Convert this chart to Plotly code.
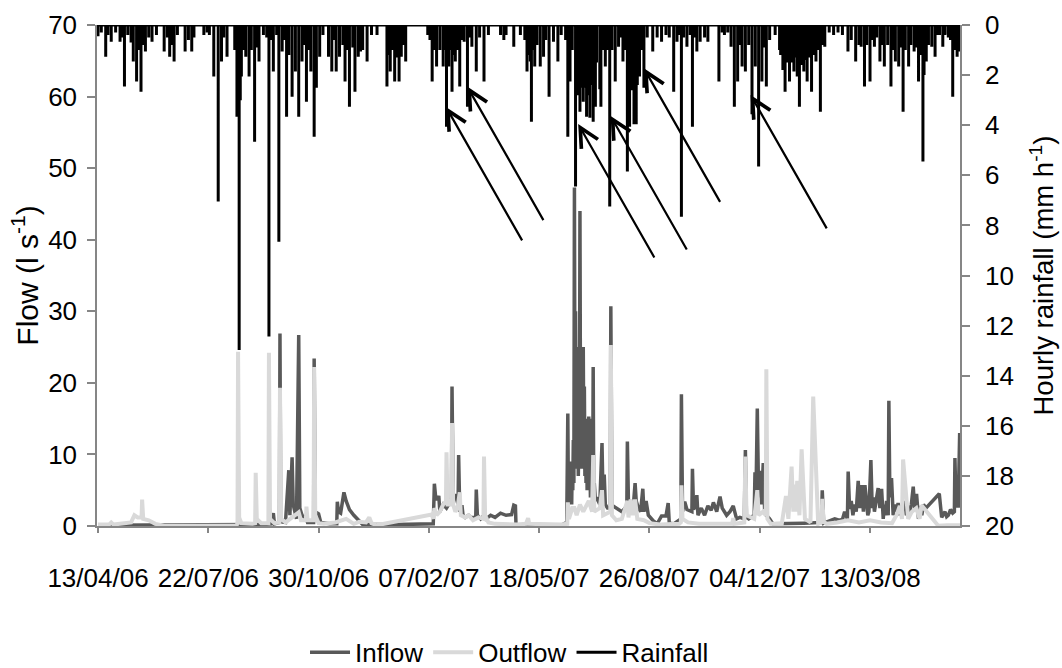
import plotly.graph_objects as go
import pandas as pd

START = pd.Timestamp("2006-04-13")   # first day of the record (day 0)

# ---------------- data (day = days since 13/04/06) ----------------
rain_day = [
    0, 3, 7, 9, 12, 16, 20, 22, 24, 27, 30, 32, 35, 37, 39, 41, 43, 46, 49, 53,
    60, 63, 65, 67, 69, 72, 79, 82, 85, 87, 96, 99, 101, 105, 109, 112, 114, 117, 124, 126,
    127, 128, 129, 130, 132, 134, 137, 139, 142, 144, 146, 150, 153, 155, 157, 159, 162, 164, 167, 169,
    171, 173, 176, 179, 182, 185, 187, 189, 191, 193, 196, 198, 201, 204, 209, 212, 214, 216, 219, 222,
    224, 226, 228, 231, 233, 236, 238, 240, 244, 248, 253, 262, 264, 265, 267, 269, 271, 273, 275, 277,
    279, 299, 301, 303, 305, 307, 310, 313, 314, 316, 318, 319, 321, 322, 324, 326, 328, 330, 332, 335,
    337, 339, 343, 346, 350, 354, 365, 368, 370, 377, 383, 387, 389, 391, 392, 393, 395, 396, 398, 401,
    404, 406, 409, 413, 417, 420, 424, 426, 428, 430, 433, 434, 435, 436, 437, 438, 439, 440, 441, 442,
    443, 444, 445, 446, 447, 448, 449, 450, 451, 452, 455, 456, 458, 460, 462, 464, 466, 469, 472, 474,
    476, 478, 480, 481, 482, 484, 486, 487, 488, 489, 491, 493, 495, 498, 503, 507, 511, 515, 518, 522,
    525, 527, 529, 531, 534, 537, 539, 541, 543, 546, 550, 553, 563, 566, 568, 571, 574, 577, 580, 582,
    584, 587, 590, 593, 596, 599, 602, 604, 606, 609, 614, 618, 619, 621, 623, 625, 627, 629, 631, 632,
    634, 636, 638, 640, 642, 643, 645, 647, 649, 651, 653, 655, 657, 659, 663, 667, 671, 675, 680, 683,
    687, 690, 692, 695, 697, 700, 702, 704, 706, 709, 711, 713, 716, 719, 721, 723, 726, 728, 730, 732,
    735, 737, 740, 742, 744, 746, 748, 749, 751, 753, 756, 759, 761, 763, 766, 768, 771, 773, 775, 777,
    779, 781]
rain_mm = [
    0.45, 0.3, 1.27, 0.4, 0.67, 0.3, 0.67, 0.5, 2.46, 0.4, 0.7, 1.46, 2.26, 1.0, 2.66, 0.8, 1.06, 0.5, 0.67, 0.4,
    1.06, 0.5, 1.27, 0.8, 1.46, 0.4, 1.06, 0.6, 1.06, 0.5, 0.4, 0.3, 0.4, 2.06, 7.05, 1.46, 0.5, 1.27, 1.0, 3.66,
    2.5, 12.97, 3.0, 2.06, 1.0, 1.27, 2.06, 1.0, 4.66, 0.9, 1.46, 0.4, 0.5, 12.44, 0.6, 1.86, 0.4, 8.65, 1.06, 0.6,
    3.66, 1.2, 2.86, 1.86, 3.66, 1.46, 0.8, 3.06, 1.0, 1.86, 4.46, 2.5, 1.27, 0.4, 1.27, 1.86, 0.6, 1.86, 1.27, 0.8,
    2.26, 1.0, 3.26, 0.9, 2.66, 1.27, 1.06, 1.0, 1.46, 0.4, 0.4, 2.46, 1.2, 1.86, 1.0, 2.26, 1.3, 2.26, 1.27, 0.8,
    1.46, 0.4, 0.6, 2.26, 1.0, 1.66, 1.0, 1.66, 1.0, 4.06, 1.66, 1.0, 2.66, 1.2, 1.46, 1.0, 2.46, 0.6, 0.67, 3.26,
    0.5, 0.87, 1.86, 0.5, 2.26, 0.4, 0.4, 0.6, 0.4, 0.87, 0.4, 0.6, 1.86, 1.2, 1.46, 3.86, 1.0, 1.66, 0.8, 1.66,
    1.27, 0.6, 2.86, 0.67, 1.46, 0.4, 0.6, 4.46, 2.26, 1.0, 6.45, 2.5, 2.8, 2.2, 3.46, 2.5, 2.0, 3.06, 2.0, 2.5,
    3.66, 2.2, 2.8, 3.7, 2.4, 2.0, 3.86, 2.5, 3.26, 1.5, 2.56, 3.26, 1.0, 1.66, 1.0, 7.25, 1.0, 2.26, 0.87, 0.5,
    1.46, 1.0, 5.85, 2.5, 4.06, 2.6, 3.96, 2.5, 3.96, 2.4, 2.06, 1.0, 2.5, 0.5, 1.06, 0.5, 0.67, 0.4, 0.5, 2.66,
    0.67, 0.4, 7.65, 0.5, 0.87, 0.4, 4.06, 0.5, 1.06, 0.67, 0.5, 0.67, 2.26, 0.3, 0.4, 0.3, 0.87, 3.26, 2.26, 0.8,
    1.66, 1.86, 0.8, 3.56, 1.66, 5.65, 2.26, 0.9, 2.46, 0.6, 0.4, 1.0, 1.2, 1.8, 2.66, 1.5, 2.26, 1.5, 1.86, 1.3,
    2.06, 3.26, 1.6, 1.86, 1.4, 2.26, 1.3, 2.66, 1.2, 1.46, 1.0, 3.46, 0.8, 0.87, 0.3, 0.4, 0.3, 0.4, 1.06, 0.6,
    1.46, 0.8, 0.87, 2.46, 0.8, 2.26, 0.6, 0.87, 0.5, 1.46, 0.8, 1.66, 0.8, 2.46, 1.0, 1.46, 1.66, 0.9, 3.46, 1.0,
    1.66, 0.8, 1.06, 0.9, 2.26, 1.2, 5.45, 2.0, 1.46, 0.8, 0.87, 1.27, 0.4, 0.4, 0.87, 0.4, 0.5, 0.6, 2.86, 1.0,
    1.27, 1.06]

inflow_day = [
    0, 60, 120, 150, 157, 159, 160, 164.5, 165, 165.7,
    170, 173, 174, 176, 177, 180, 182, 183, 185, 189,
    190, 195.5, 196, 197, 200, 202, 210, 216.5, 217, 218,
    220, 223, 225, 228, 232, 236, 240, 270, 303, 304,
    305, 306, 307.5, 309, 310, 313, 316, 318, 320.5, 321,
    322, 324, 326.5, 327, 328, 330, 331, 333, 336, 338,
    342.5, 343, 344, 347, 350, 352, 356, 360, 365, 370,
    375, 377, 378.5, 379, 390, 420, 425, 426, 426.5, 427,
    427.5, 428, 428.5, 429, 429.5, 430, 430.5, 431, 431.5, 432,
    432.5, 433, 433.5, 434, 434.5, 435, 435.5, 436, 436.5, 437,
    437.5, 438, 438.5, 439, 439.5, 440, 440.5, 441, 441.5, 442,
    442.5, 443, 443.5, 444, 444.5, 445, 445.5, 446, 446.5, 447,
    447.5, 448, 448.5, 449, 449.5, 450, 451, 452, 455, 457,
    458, 459, 460, 462, 464.5, 465, 466, 469, 472, 475,
    478, 479.5, 480, 481, 483, 485, 487, 488, 490, 492,
    494, 495, 497, 499, 503, 507, 511, 515, 517, 518,
    522, 528.5, 529, 530, 532, 534, 538.5, 539, 540, 542,
    543, 544, 547, 550, 553, 556, 558, 561, 564, 566,
    570, 573, 576, 579, 582, 586, 587, 588, 590, 595,
    595.7, 596.5, 597.8, 599, 600.2, 601.5, 603.2, 604.5, 606, 609,
    612, 620, 640, 656, 656.7, 658, 664, 668, 672, 675,
    677, 679.5, 680.2, 681.5, 683, 684.5, 686, 687.5, 689.3, 690.5,
    692.4, 694, 695.4, 697, 698, 699, 700.8, 702, 703, 704,
    705.5, 707.4, 709, 710.5, 712, 713, 714, 715, 716.5, 717.1,
    718, 719.5, 721, 722.5, 724, 725.5, 727, 728.5, 730, 731.5,
    733, 734.5, 736, 737.5, 739.2, 740.5, 742.2, 744, 745.5, 747,
    748.5, 750.7, 762.8, 765, 768, 769.5, 771, 773, 775, 776.5,
    777, 778, 780, 780.8, 781.3]
inflow_ls = [
    0.1, 0.1, 0.1, 0.2, 0.3, 1.8, 0.3, 0.5, 26.9, 0.6,
    0.5, 7.8, 1.5, 9.6, 3.0, 1.0, 26.7, 2.5, 1.5, 1.0,
    0.5, 0.5, 23.4, 2.0, 1.7, 0.5, 0.3, 0.3, 3.4, 2.0,
    1.8, 4.7, 3.5, 2.3, 1.5, 0.8, 0.2, 0.2, 0.2, 0.3,
    5.9, 4.3, 3.6, 4.2, 2.0, 3.0, 2.5, 3.0, 4.0, 19.5,
    4.0, 4.4, 3.0, 9.9, 2.0, 2.9, 1.5, 1.2, 1.5, 1.2,
    1.2, 5.1, 1.5, 1.0, 1.5, 1.0, 1.5, 1.2, 1.8, 1.5,
    1.6, 2.9, 2.8, 0.2, 0.1, 0.1, 0.5, 15.7, 4.0, 9.0,
    3.0, 9.0, 4.0, 8.0, 3.0, 9.0, 5.0, 12.0, 6.0, 47.3,
    12.0, 30.0, 10.0, 25.0, 8.0, 20.0, 7.0, 12.0, 9.0, 44.0,
    15.0, 22.0, 8.0, 18.0, 9.0, 25.0, 10.0, 19.5, 7.0, 15.0,
    6.0, 14.0, 5.0, 12.0, 6.0, 15.3, 5.0, 10.0, 4.0, 8.0,
    5.0, 15.0, 4.0, 22.2, 5.0, 6.0, 3.5, 4.0, 3.0, 11.6,
    3.0, 7.2, 3.0, 2.5, 2.5, 30.7, 2.9, 2.6, 2.4, 2.0,
    2.5, 2.5, 11.8, 3.0, 3.6, 2.0, 6.0, 3.5, 2.5, 2.0,
    5.2, 2.0, 3.5, 1.5, 0.8, 0.3, 1.4, 1.4, 3.2, 0.4,
    0.3, 1.0, 18.4, 2.0, 3.4, 2.3, 2.0, 8.0, 2.3, 3.0,
    4.3, 1.5, 2.5, 1.5, 2.8, 2.2, 3.3, 2.0, 4.1, 2.5,
    1.5, 2.0, 2.8, 1.0, 1.2, 1.0, 10.6, 1.2, 1.0, 1.5,
    7.5, 3.0, 16.4, 4.0, 7.7, 3.0, 8.8, 2.0, 1.5, 1.0,
    0.3, 0.3, 0.4, 0.5, 5.0, 0.4, 0.8, 1.0, 0.8, 0.9,
    2.0, 1.0, 7.6, 2.4, 3.5, 1.5, 3.0, 2.0, 6.3, 2.5,
    5.7, 2.0, 5.7, 3.0, 1.5, 2.0, 9.2, 2.5, 4.0, 2.0,
    3.5, 5.3, 2.5, 5.2, 1.0, 3.0, 1.5, 3.5, 1.5, 17.5,
    4.0, 6.7, 1.5, 3.0, 2.0, 3.2, 1.5, 2.8, 2.2, 3.5,
    1.5, 2.5, 2.0, 3.0, 5.5, 2.5, 4.5, 1.0, 2.8, 1.5,
    3.0, 2.5, 4.5, 1.2, 2.0, 1.3, 1.5, 2.3, 1.8, 2.0,
    9.5, 2.8, 2.8, 9.0, 13.0]

outflow_day = [
    0, 10, 12, 14, 30, 33, 36, 39.5, 40, 41,
    46, 52, 60, 125, 126.5, 127, 128, 130, 140, 142.5,
    143, 144, 148, 154.5, 155, 156, 160, 164.5, 165, 166,
    170, 176, 180, 182, 184, 188.5, 189, 190, 195.5, 196,
    197, 200, 205, 215, 225, 232, 237, 243, 246, 248,
    252.5, 302.5, 304, 305, 307, 310, 313, 315.5, 316, 317,
    320.5, 321, 322, 324, 326, 328, 329, 333, 336, 340,
    345, 349.5, 350, 351, 354, 360, 380, 388, 390, 391,
    420, 425.5, 426, 427, 430, 432, 434, 437, 440, 445,
    448, 449, 450, 455, 457, 458, 464.5, 465, 466, 470,
    475, 480, 481, 483, 485, 487, 489, 495, 500, 510,
    527, 528.5, 529, 530, 535, 545, 575, 576, 577, 586,
    587, 588, 595, 597.8, 599, 603, 605.5, 606, 607, 610,
    620, 623.8, 626, 628.9, 630.5, 631.9, 633, 634, 636, 638,
    641, 646, 648.5, 653, 656, 656.7, 658, 660.6, 670, 680,
    690, 700, 710, 720, 724, 727, 729, 730, 734.6, 738,
    742, 745, 746.7, 761.8, 770, 782]
outflow_ls = [
    0.2, 0.2, 0.5, 0.2, 0.5, 1.5, 1.2, 1.2, 3.7, 1.0,
    0.8, 0.3, 0.05, 0.05, 0.3, 24.35, 1.2, 0.4, 0.3, 0.4,
    7.45, 1.0, 0.4, 0.4, 24.2, 1.0, 0.4, 0.5, 19.3, 1.0,
    0.5, 1.2, 1.5, 1.9, 0.8, 0.8, 2.7, 0.8, 0.8, 22.2,
    1.5, 0.4, 0.3, 0.5, 1.0, 0.3, 0.6, 0.5, 1.2, 0.4,
    0.1, 1.6, 1.0, 2.5, 1.5, 2.0, 3.0, 3.5, 10.3, 3.0,
    3.0, 14.4, 3.0, 2.0, 2.5, 4.7, 1.5, 1.2, 1.5, 0.8,
    1.2, 1.0, 9.7, 1.5, 0.5, 0.3, 0.2, 0.3, 1.1, 0.3,
    0.2, 0.3, 3.3, 1.0, 2.5, 2.5, 1.5, 3.0, 2.0, 3.5,
    2.0, 9.9, 2.0, 2.5, 5.0, 1.5, 2.0, 25.3, 1.5, 0.8,
    1.0, 3.5, 1.2, 3.7, 1.5, 3.7, 1.0, 0.8, 0.4, 0.2,
    0.3, 0.5, 5.7, 1.0, 0.5, 0.3, 0.3, 1.1, 0.3, 0.5,
    9.7, 1.5, 1.0, 5.0, 1.5, 2.0, 1.5, 21.9, 1.0, 0.3,
    0.3, 4.2, 1.0, 8.3, 2.0, 5.8, 2.0, 6.3, 1.5, 10.7,
    1.0, 0.5, 18.1, 0.3, 0.5, 3.8, 0.6, 0.3, 0.5, 0.8,
    0.5, 0.8, 0.5, 0.4, 1.5, 2.8, 1.0, 9.3, 1.0, 2.0,
    2.5, 1.0, 2.9, 0.05, 0.1, 0.1]

# arrow heads pointing at rainfall events (day, mm h-1)
arrow_day = [315.5, 334.8, 435.4, 464.8, 495.0, 591.7]
arrow_mm = [3.27, 2.46, 3.95, 3.63, 1.73, 2.79]

tick_days = [0, 100, 200, 300, 400, 500, 600, 700]
range_days = [-0.9, 781.6]


def to_dates(days):
    return [START + pd.Timedelta(days=float(d)) for d in days]


# hourly rainfall peaks on a zero baseline (no rain between events)
rain_x, rain_y = [], []
for t, v in zip(to_dates(rain_day), rain_mm):
    rain_x += [t, t, t]
    rain_y += [0, v, 0]

FONT = "Liberation Sans, Arial, sans-serif"
AXC = "#868686"

fig = go.Figure()
fig.add_trace(go.Scatter(x=to_dates(inflow_day), y=inflow_ls, mode="lines",
                         name="Inflow", line=dict(color="#595959", width=3.5)))
fig.add_trace(go.Scatter(x=to_dates(outflow_day), y=outflow_ls, mode="lines",
                         name="Outflow", line=dict(color="#d9d9d9", width=4)))
fig.add_trace(go.Scatter(x=rain_x, y=rain_y, mode="lines", name="Rainfall",
                         yaxis="y2", line=dict(color="black", width=3)))

tick_dates = to_dates(tick_days)
ann = []
for t, v in zip(to_dates(arrow_day), arrow_mm):
    ann.append(dict(x=t, y=v, xref="x", yref="y2", text="", showarrow=True,
                    ax=77, ay=135, arrowhead=5, arrowsize=1.7, arrowwidth=2.2,
                    arrowcolor="black", standoff=0))

fig.update_layout(
    width=1062, height=668,
    margin=dict(l=97, r=102, t=25, b=142, autoexpand=False),
    paper_bgcolor="white", plot_bgcolor="white",
    font=dict(family=FONT, size=26, color="black"),
    showlegend=True,
    legend=dict(orientation="h", x=0.478, xanchor="center", y=-0.252,
                yanchor="middle", font=dict(size=26), itemwidth=40,
                traceorder="normal", bgcolor="rgba(0,0,0,0)"),
    xaxis=dict(type="date", range=to_dates(range_days), tickvals=tick_dates,
               ticktext=[d.strftime("%d/%m/%y") for d in tick_dates],
               ticks="outside", ticklen=5, tickcolor=AXC, tickwidth=1.5,
               showline=True, linecolor=AXC, linewidth=1.5, showgrid=False,
               zeroline=False, tickfont=dict(size=26), ticklabelstandoff=23),
    yaxis=dict(range=[0, 70], dtick=10, ticks="outside", ticklen=8,
               tickcolor=AXC, tickwidth=1.5, showline=True, linecolor=AXC,
               linewidth=1.5, showgrid=False, zeroline=False,
               tickfont=dict(size=26), ticklabelstandoff=5,
               title=dict(text="Flow (l s<sup>-1</sup>)", font=dict(size=30),
                          standoff=1)),
    yaxis2=dict(range=[20, 0], dtick=2, overlaying="y", side="right",
                ticks="outside", ticklen=8, tickcolor=AXC, tickwidth=1.5,
                showline=True, linecolor=AXC, linewidth=1.5, showgrid=False,
                zeroline=False, tickfont=dict(size=26), ticklabelstandoff=10,
                title=dict(text="Hourly rainfall (mm h<sup>-1</sup>)",
                           font=dict(size=27.5), standoff=21)),
    annotations=ann,
)

fig.write_html("out.html")
